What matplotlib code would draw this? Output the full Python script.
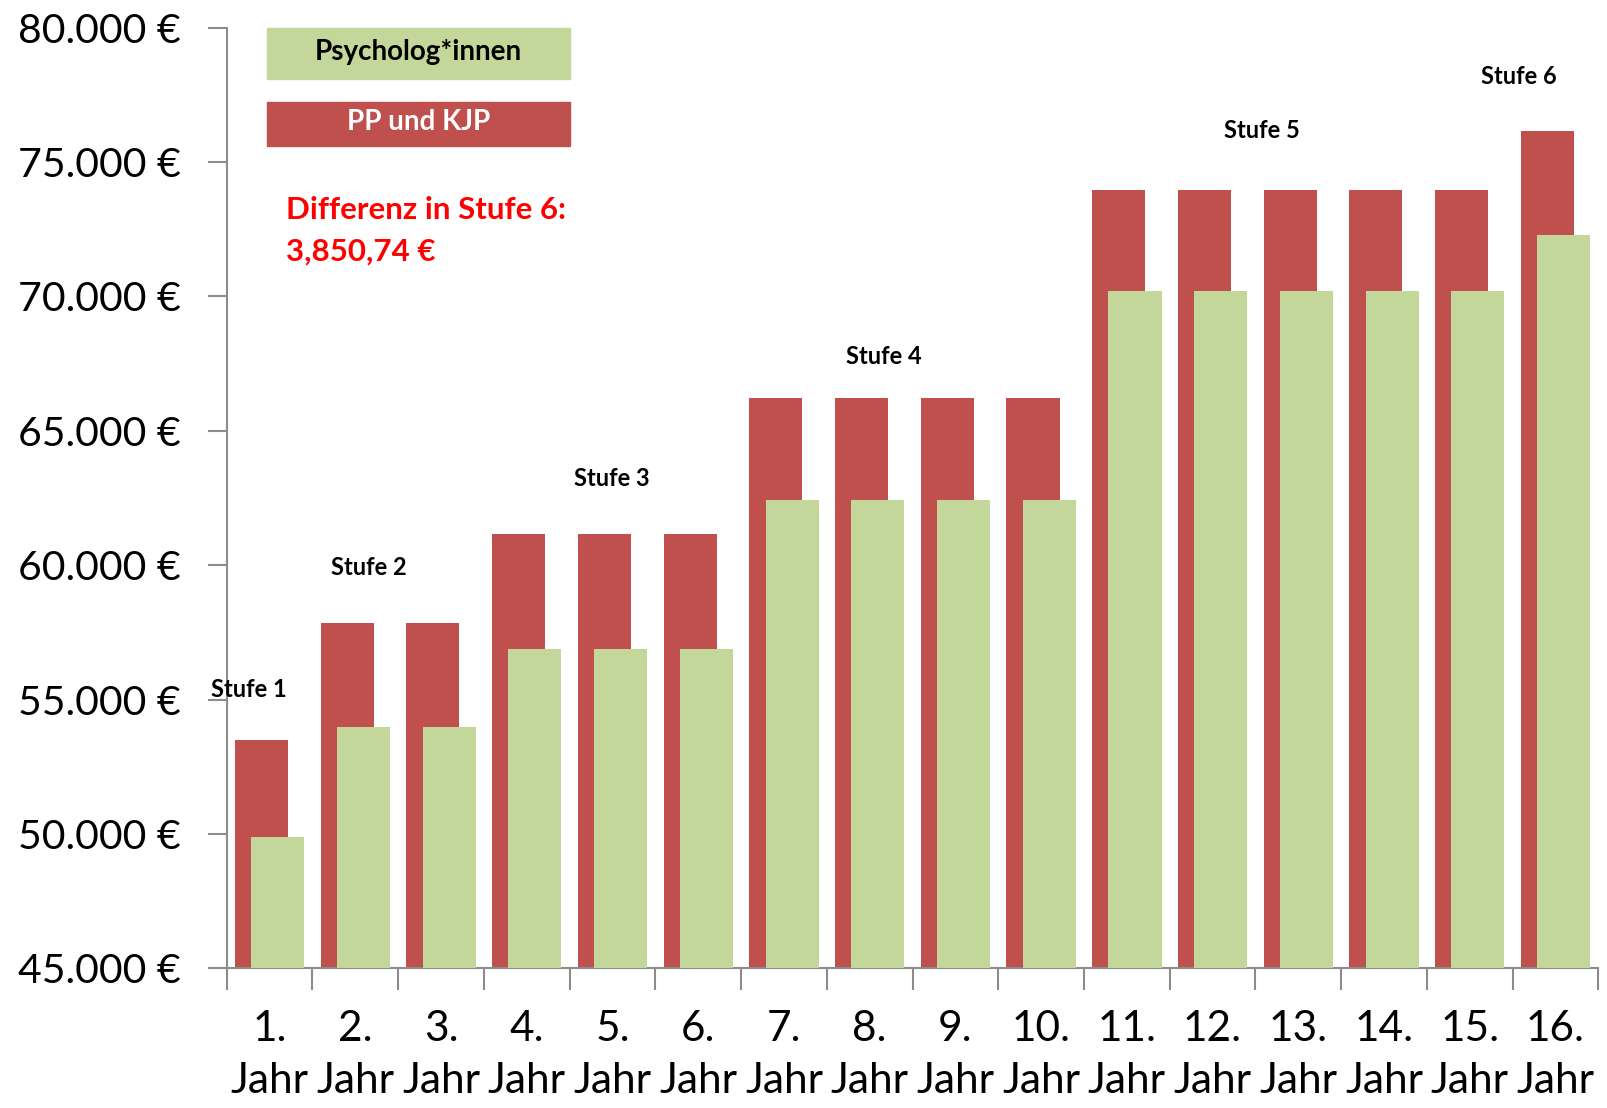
import matplotlib.pyplot as plt
import matplotlib.patches as mpatches
from matplotlib.ticker import FuncFormatter
import numpy as np

plt.rcParams["font.family"] = ["Lato", "DejaVu Sans"]

# data
years = [f"{i}.\nJahr" for i in range(1, 17)]
pp_kjp = [53510, 57860, 57860, 61180, 61180, 61180, 66220, 66220, 66220, 66220,
          73970, 73970, 73970, 73970, 73970, 76145]
psycholog = [49890, 53970, 53970, 56870, 56870, 56870, 62440, 62440, 62440, 62440,
             70190, 70190, 70190, 70190, 70190, 72294]
stufen = ["Stufe 1", "Stufe 2", "Stufe 3", "Stufe 4", "Stufe 5", "Stufe 6"]
stufe_xy = [(-0.24, 55380), (1.16, 59920), (3.99, 63240), (7.17, 67750),
            (11.57, 76180), (14.57, 78170)]

RED = "#c0504d"
GREEN = "#c4d79b"
GRAY = "#8c8c8c"

fig = plt.figure(figsize=(16.08, 11.08), dpi=100)
ax = fig.add_axes([0.141, 0.126, 0.853, 0.849])

x = np.arange(len(years))
w = 0.62
off = 0.095
ax.bar(x - off, pp_kjp, w, color=RED, zorder=2)
ax.bar(x + off, psycholog, w, color=GREEN, zorder=3)

ax.set_xlim(-0.5, len(years) - 0.5)
ax.set_ylim(45000, 80000)
ax.set_yticks(np.arange(45000, 80001, 5000))
ax.yaxis.set_major_formatter(FuncFormatter(lambda v, p: f"{int(v):,} €".replace(",", ".")))

ax.set_xticks(x)
ax.set_xticklabels(years, fontsize=30.5, linespacing=1.45)
ax.set_xticks(np.arange(-0.5, len(years)), minor=True)
ax.tick_params(axis="x", which="major", length=0, pad=30)
ax.tick_params(axis="x", which="minor", length=16, color=GRAY, width=1.5, direction="out")
ax.tick_params(axis="y", labelsize=29.5, length=14, color=GRAY, width=1.5, pad=19)

for side in ["top", "right"]:
    ax.spines[side].set_visible(False)
for side in ["left", "bottom"]:
    ax.spines[side].set_color(GRAY)
    ax.spines[side].set_linewidth(1.5)

# legend boxes
ax.add_patch(mpatches.Rectangle((0.029, 0.9455), 0.2216, 0.0545, transform=ax.transAxes,
                                color=GREEN, zorder=4, clip_on=False))
ax.text(0.1398, 0.9745, "Psycholog*innen", transform=ax.transAxes, ha="center", va="center",
        fontsize=20, fontweight="bold", color="black", zorder=5)
ax.add_patch(mpatches.Rectangle((0.029, 0.8746), 0.2216, 0.0469, transform=ax.transAxes,
                                color=RED, zorder=4))
ax.text(0.1398, 0.900, "PP und KJP", transform=ax.transAxes, ha="center", va="center",
        fontsize=20, fontweight="bold", color="white", zorder=5)

ax.text(0.0434, 0.806, "Differenz in Stufe 6:", transform=ax.transAxes, ha="left", va="center",
        fontsize=22.5, fontweight="bold", color="#ff0000")
ax.text(0.0434, 0.762, "3,850,74 €", transform=ax.transAxes, ha="left", va="center",
        fontsize=22.5, fontweight="bold", color="#ff0000")

for label, (sx, sy) in zip(stufen, stufe_xy):
    ax.text(sx, sy, label, ha="center", va="center", fontsize=17, fontweight="bold", zorder=6)

fig.savefig("out.png", dpi=100)
